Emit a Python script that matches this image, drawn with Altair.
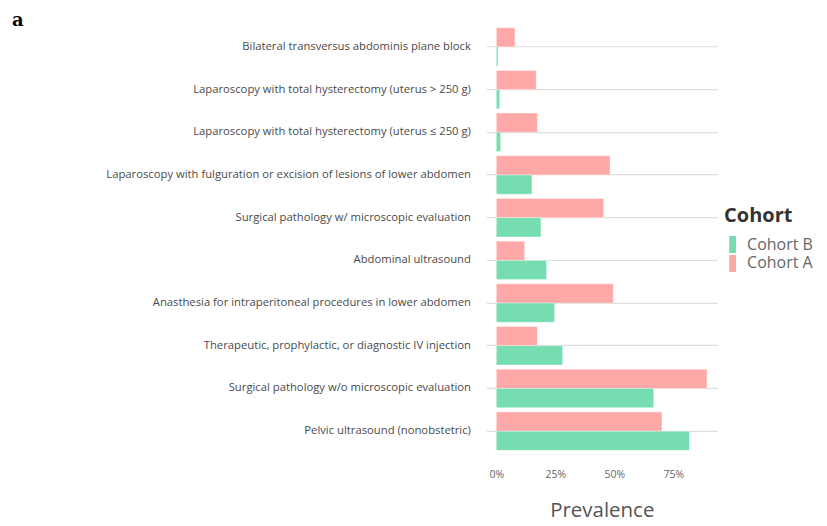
import altair as alt
import pandas as pd

categories = [
    "Bilateral transversus abdominis plane block",
    "Laparoscopy with total hysterectomy (uterus > 250 g)",
    "Laparoscopy with total hysterectomy (uterus ≤ 250 g)",
    "Laparoscopy with fulguration or excision of lesions of lower abdomen",
    "Surgical pathology w/ microscopic evaluation",
    "Abdominal ultrasound",
    "Anasthesia for intraperitoneal procedures in lower abdomen",
    "Therapeutic, prophylactic, or diagnostic IV injection",
    "Surgical pathology w/o microscopic evaluation",
    "Pelvic ultrasound (nonobstetric)",
]
cohort_a = [0.079, 0.169, 0.174, 0.482, 0.455, 0.120, 0.496, 0.174, 0.893, 0.702]
cohort_b = [0.007, 0.014, 0.018, 0.151, 0.189, 0.213, 0.247, 0.281, 0.667, 0.819]
cohorts = ["Cohort B", "Cohort A"]
colors = ["#76DDB0", "#FFA8A8"]

rows = []
for c, a, b in zip(categories, cohort_a, cohort_b):
    rows.append({"Procedure": c, "Cohort": "Cohort A", "Prevalence": a})
    rows.append({"Procedure": c, "Cohort": "Cohort B", "Prevalence": b})
df = pd.DataFrame(rows)

FONT = "Open Sans"

bars = alt.Chart(df).mark_bar(stroke="white", strokeWidth=0.6, strokeOpacity=0.6).encode(
    y=alt.Y(
        "Procedure:N",
        sort=categories,
        title=None,
        scale=alt.Scale(paddingInner=0.1, paddingOuter=0.15),
        axis=alt.Axis(
            grid=True, gridColor="#dedede", gridWidth=1.2, bandPosition=0.5,
            ticks=False, domain=False, labelFont=FONT, labelFontSize=11.3,
            labelColor="#4a4a4a", labelPadding=16, labelLimit=500,
        ),
    ),
    yOffset=alt.YOffset("Cohort:N", sort=["Cohort A", "Cohort B"]),
    x=alt.X(
        "Prevalence:Q",
        title="Prevalence",
        scale=alt.Scale(domain=[-0.042, 0.936], nice=False, zero=False),
        axis=alt.Axis(
            values=[0, 0.25, 0.5, 0.75], format=".0%", grid=False, ticks=False,
            domain=False, labelFont=FONT, labelFontSize=10.5, labelColor="#666666",
            labelPadding=13, titleFont=FONT, titleFontSize=20.5, titleFontWeight="normal",
            titleColor="#555555", titlePadding=20,
        ),
    ),
    color=alt.Color(
        "Cohort:N",
        scale=alt.Scale(domain=cohorts, range=colors),
        legend=alt.Legend(
            title="Cohort", titleFont=FONT, titleFontSize=20, titleFontWeight="bold",
            titleColor="#333333", labelFont=FONT, labelFontSize=16, labelColor="#666666",
            symbolType="M-0.4,-1L0.4,-1L0.4,1L-0.4,1Z", symbolSize=289,
            symbolStrokeWidth=0, rowPadding=2, orient="none", legendX=238, legendY=185,
            padding=0, titlePadding=10, labelOffset=6,
        ),
    ),
)

label = alt.Chart(pd.DataFrame({"t": ["a"]})).mark_text(
    font="DejaVu Serif", fontWeight="bold", fontSize=18, align="left", baseline="alphabetic",
    color="black",
).encode(text="t:N", x=alt.value(-475), y=alt.value(5))

chart = alt.layer(bars, label).properties(
    width=231, height=436,
    autosize=alt.AutoSizeParams(type="none"),
    padding={"left": 479, "top": 13, "right": 102, "bottom": 66},
).configure_view(stroke=None)

chart.save("out.html", embed_options={"renderer": "svg", "actions": False})
